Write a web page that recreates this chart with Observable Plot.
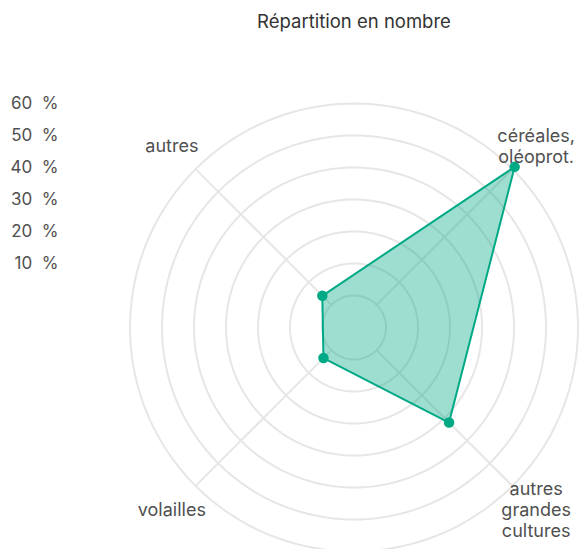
<!DOCTYPE html>
<html>
<head>
<meta charset="utf-8">
<script src="https://cdn.jsdelivr.net/npm/d3@7"></script>
<script src="https://cdn.jsdelivr.net/npm/@observablehq/plot@0.6"></script>
<style>
  body { margin: 0; background: #fff; }
  #chart svg { display: block; }
</style>
</head>
<body>
<div id="chart"></div>
<script>
const title = "Répartition en nombre";
const categories = ["céréales,\noléoprot.", "autres\ngrandes\ncultures", "volailles", "autres"];
const values = [61, 32, 3.5, 4];
const ringTicks = [0, 10, 20, 30, 40, 50, 60];
const tickLabels = ["10  %", "20  %", "30  %", "40  %", "50  %", "60  %"];
const tickValues = [10, 20, 30, 40, 50, 60];

const W = 580, H = 549;
const cx = 353.5, cy = 327, unit = 3.2; // pixel centre and px per percent
const off = 10;          // 0 % sits on the innermost ring
const maxV = 60;
const labelR = 80.5;     // category label distance (in percent units)

const ang = i => (45 + 90 * i) * Math.PI / 180;
const px = (v, a) => (v + off) * Math.sin(a);
const py = (v, a) => (v + off) * Math.cos(a);

const rings = [];
for (const t of ringTicks) {
  for (let d = 0; d <= 360; d += 2) {
    const a = d * Math.PI / 180;
    rings.push({ring: t, x: px(t, a), y: py(t, a)});
  }
}
const spokes = categories.map((c, i) => ({
  x1: px(0, ang(i)), y1: py(0, ang(i)), x2: px(maxV, ang(i)), y2: py(maxV, ang(i))
}));
const pts = categories.map((c, i) => ({cat: c, v: values[i], x: px(values[i], ang(i)), y: py(values[i], ang(i))}));
const labs = categories.map((c, i) => ({text: c, x: labelR * Math.sin(ang(i)), y: labelR * Math.cos(ang(i))}));
const ticks = tickValues.map((v, i) => ({text: tickLabels[i], y: v + off}));

const color = "#00a985";
const font = "Inter, 'Noto Sans', sans-serif";

const chart = Plot.plot({
  width: W, height: H,
  margin: 0,
  style: {fontFamily: font, background: "#fff"},
  x: {domain: [-cx / unit, (W - cx) / unit], range: [0, W], axis: null},
  y: {domain: [-(H - cy) / unit, cy / unit], range: [H, 0], axis: null},
  marks: [
    Plot.line(rings, {x: "x", y: "y", z: "ring", stroke: "#e6e6e6", strokeWidth: 2}),
    Plot.link(spokes, {x1: "x1", y1: "y1", x2: "x2", y2: "y2", stroke: "#e6e6e6", strokeWidth: 2}),
    Plot.line(pts, {x: "x", y: "y", curve: "linear-closed", fill: color, fillOpacity: 0.38, stroke: color, strokeWidth: 2}),
    Plot.dot(pts, {x: "x", y: "y", r: 4.5, fill: color, stroke: color}),
    Plot.text(labs, {x: "x", y: "y", text: "text", fontSize: 18, fill: "#505050", lineHeight: 1.17, textAnchor: "middle"}),
    Plot.text(ticks, {x: (58 - cx) / unit, y: "y", text: "text", fontSize: 17, fill: "#505050", textAnchor: "end", style: "white-space: pre"}),
    Plot.text([title], {x: 0, y: (cy - 22) / unit, text: d => d, fontSize: 18.5, fill: "#333"})
  ]
});
document.getElementById("chart").appendChild(chart);
</script>
</body>
</html>
